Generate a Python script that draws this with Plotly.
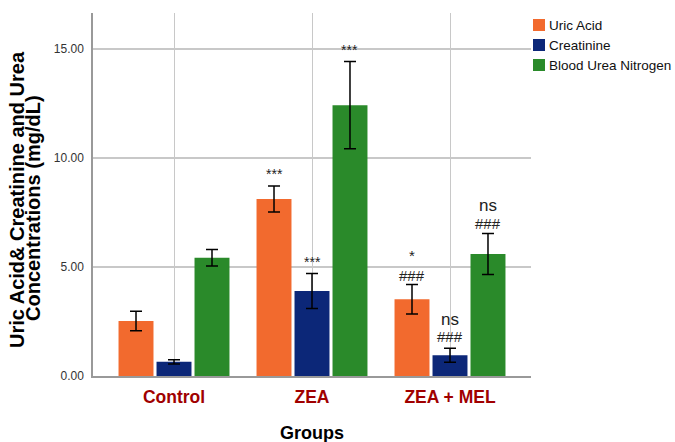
import plotly.graph_objects as go

groups = ["Control", "ZEA", "ZEA + MEL"]
uric_acid = [2.52, 8.12, 3.52]
uric_acid_err = [0.45, 0.6, 0.68]
creatinine = [0.65, 3.9, 0.95]
creatinine_err = [0.1, 0.8, 0.32]
bun = [5.42, 12.42, 5.6]
bun_err = [0.38, 2.0, 0.94]

series_names = ["Uric Acid", "Creatinine", "Blood Urea Nitrogen"]
colors = ["#F26A2E", "#0C2778", "#2A8A2A"]

# significance labels: (group index, series index, text, y, size)
sig_labels = [
    (1, 0, "***", 9.25, 14),
    (1, 1, "***", 5.25, 14),
    (1, 2, "***", 14.95, 14),
    (2, 0, "*", 5.55, 15),
    (2, 0, "###", 4.6, 15),
    (2, 1, "ns", 2.58, 17),
    (2, 1, "###", 1.8, 15),
    (2, 2, "ns", 7.8, 17),
    (2, 2, "###", 6.98, 15),
]

FONT = "Liberation Sans, Arial, sans-serif"
L, R, T, B = 93, 144, 13, 66
W, H = 675, 442
PW, PH = W - L - R, H - T - B


def px_x(px):
    return (px - L) / PW


def px_y(py):
    return (H - B - py) / PH


fig = go.Figure()
for name, vals, errs, col in zip(series_names, [uric_acid, creatinine, bun],
                                 [uric_acid_err, creatinine_err, bun_err], colors):
    fig.add_trace(go.Bar(
        x=[0, 1, 2], y=vals, name=name, showlegend=False,
        marker=dict(color=col, line=dict(width=0)),
        error_y=dict(type="data", array=errs, color="black", thickness=1.5, width=6),
    ))

bargap = 0.174
slot = (1 - bargap) / 3
for gi, si, txt, yv, sz in sig_labels:
    fig.add_annotation(x=gi + (si - 1) * slot, y=yv, text=txt, showarrow=False,
                       xref="x", yref="y",
                       font=dict(family=FONT, size=sz, color="#222"),
                       yanchor="middle")

# legend drawn manually
for i, (name, col) in enumerate(zip(series_names, colors)):
    cy = 25 + 20 * i
    fig.add_shape(type="rect", xref="paper", yref="paper",
                  x0=px_x(533), x1=px_x(545), y0=px_y(cy + 6), y1=px_y(cy - 6),
                  fillcolor=col, line=dict(width=0))
    fig.add_annotation(xref="paper", yref="paper", x=px_x(547), y=px_y(cy),
                       text=name, showarrow=False, xanchor="left", yanchor="middle",
                       font=dict(family=FONT, size=13.5, color="#111"))

# y-axis title as two rotated lines
fig.add_annotation(xref="paper", yref="paper", x=px_x(17), y=px_y(200),
                   text="<b>Uric Acid& Creatinine and Urea</b>", textangle=-90,
                   showarrow=False, xanchor="center", yanchor="middle",
                   font=dict(family=FONT, size=20, color="black"))
fig.add_annotation(xref="paper", yref="paper", x=px_x(33), y=px_y(208),
                   text="<b>Concentrations (mg/dL)</b>", textangle=-90,
                   showarrow=False, xanchor="center", yanchor="middle",
                   font=dict(family=FONT, size=20, color="black"))
# x-axis title
fig.add_annotation(xref="paper", yref="paper", x=px_x(312), y=px_y(433),
                   text="<b>Groups</b>", showarrow=False,
                   xanchor="center", yanchor="middle",
                   font=dict(family=FONT, size=18, color="black"))

fig.update_layout(
    width=W, height=H,
    margin=dict(l=L, r=R, t=T, b=B),
    paper_bgcolor="white", plot_bgcolor="white",
    barmode="group", bargap=bargap, bargroupgap=0.08,
    font=dict(family=FONT, color="black"),
    showlegend=False,
)
fig.update_xaxes(
    range=[-0.587, 2.587], showgrid=True, gridcolor="#C8C8C8", gridwidth=1,
    showline=True, linecolor="#999", linewidth=1.5, automargin=False,
    tickfont=dict(size=17.5, color="#A00000", family=FONT),
    ticks="", ticklabelstandoff=4,
    tickvals=[0, 1, 2], ticktext=["<b>%s</b>" % g for g in groups],
)
fig.update_yaxes(
    range=[0, 16.65], tickvals=[0, 5, 10, 15],
    ticktext=["0.00", "5.00", "10.00", "15.00"],
    showgrid=True, gridcolor="#C8C8C8", gridwidth=1.5, automargin=False,
    showline=True, linecolor="#999", linewidth=1.5, zeroline=False,
    tickfont=dict(size=12, color="#333", family=FONT), ticks="",
    ticklabelstandoff=5,
)
fig.write_html("out.html", config={"displayModeBar": False},
               post_script="document.body.style.margin='0';document.body.style.overflow='hidden';")
